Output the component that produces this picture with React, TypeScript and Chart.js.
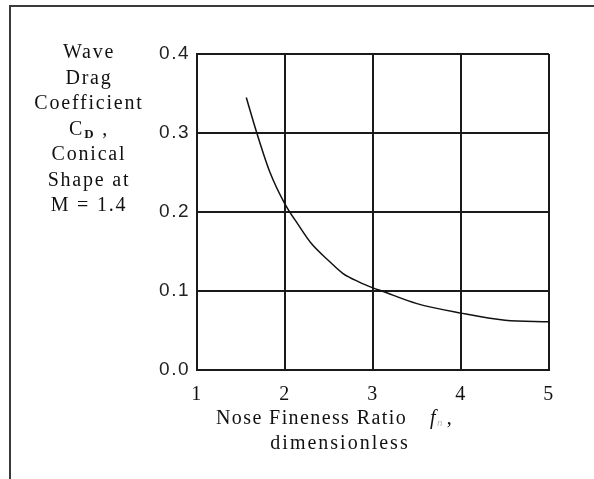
import { useEffect, useRef } from "react";
import { Chart, registerables } from "chart.js";

Chart.register(...registerables);

const finenessRatio = [1.56, 1.68, 1.83, 2.0, 2.15, 2.3, 2.5, 2.66, 2.85, 3.0, 3.1, 3.5, 4.0, 4.5, 5.0];
const waveDragCd = [0.345, 0.3, 0.25, 0.21, 0.184, 0.16, 0.138, 0.122, 0.111, 0.104, 0.1, 0.084, 0.072, 0.063, 0.061];
const xTickValues = [1, 2, 3, 4, 5];
const yTickValues = [0.0, 0.1, 0.2, 0.3, 0.4];
const yTitleLines = ["Wave", "Drag", "Coefficient", "C_D ,", "Conical", "Shape at", "M = 1.4"];
const xTitleLine1 = "Nose Fineness Ratio";
const xTitleSymbol = "f";
const xTitleSub = "n";
const xTitleLine2 = "dimensionless";

const SERIF = "'Liberation Serif', 'DejaVu Serif', serif";
const SANS = "'Liberation Sans', Arial, sans-serif";

const decorPlugin = {
  id: "decor",
  beforeDraw(chart: any) {
    const ctx = chart.ctx;
    ctx.fillStyle = "#ffffff";
    ctx.fillRect(0, 0, chart.width, chart.height);
    (ctx as any).letterSpacing = "1.5px";
  },
  afterDraw(chart: any) {
    const ctx = chart.ctx as CanvasRenderingContext2D;
    ctx.save();
    // outer frame
    ctx.strokeStyle = "#3a3a3a";
    ctx.lineWidth = 2;
    ctx.beginPath();
    ctx.moveTo(10, 479);
    ctx.lineTo(10, 6);
    ctx.lineTo(594, 6);
    ctx.stroke();

    ctx.fillStyle = "#111111";
    (ctx as any).letterSpacing = "1.8px";
    ctx.textBaseline = "alphabetic";
    const cx = 89;
    yTitleLines.forEach((line, i) => {
      const y = 58 + 25.5 * i;
      if (line.startsWith("C_D")) {
        ctx.font = `20px ${SERIF}`;
        const wC = ctx.measureText("C").width;
        ctx.font = `bold 13px ${SERIF}`;
        const wD = ctx.measureText("D").width;
        ctx.font = `20px ${SERIF}`;
        const rest = line.slice(3);
        const wR = ctx.measureText(rest).width;
        let x = cx - (wC + wD + wR) / 2;
        ctx.textAlign = "left";
        ctx.fillText("C", x, y);
        x += wC;
        ctx.font = `bold 13px ${SERIF}`;
        ctx.fillText("D", x, y + 3);
        x += wD;
        ctx.font = `20px ${SERIF}`;
        ctx.fillText(rest, x, y);
      } else {
        ctx.font = `20px ${SERIF}`;
        ctx.textAlign = "center";
        ctx.fillText(line, cx, y);
      }
    });

    // x title
    (ctx as any).letterSpacing = "1.4px";
    ctx.textAlign = "left";
    ctx.font = `20px ${SERIF}`;
    let x = 216;
    const y1 = 424;
    ctx.fillText(xTitleLine1, x, y1);
    x = 430;
    ctx.font = `italic 20px ${SERIF}`;
    ctx.fillText(xTitleSymbol, x, y1);
    x += ctx.measureText(xTitleSymbol).width;
    ctx.fillStyle = "#bbbbbb";
    ctx.font = `italic 11px ${SERIF}`;
    ctx.fillText(xTitleSub, x, y1 + 2);
    x += ctx.measureText(xTitleSub).width + 3;
    ctx.fillStyle = "#111111";
    ctx.font = `20px ${SERIF}`;
    ctx.fillText(",", x, y1);
    (ctx as any).letterSpacing = "2px";
    ctx.textAlign = "center";
    ctx.fillText(xTitleLine2, 340, 449);
    ctx.restore();
  },
};

export default function App() {
  const ref = useRef<HTMLCanvasElement | null>(null);
  useEffect(() => {
    if (!ref.current) return;
    const chart = new Chart(ref.current, {
      type: "line",
      data: {
        datasets: [
          {
            data: finenessRatio.map((v, i) => ({ x: v, y: waveDragCd[i] })),
            borderColor: "#111111",
            borderWidth: 1.5,
            pointRadius: 0,
            fill: false,
            cubicInterpolationMode: "monotone",
          },
        ],
      },
      options: {
        animation: false,
        responsive: false,
        devicePixelRatio: 1,
        layout: { padding: { left: 0, top: 54, right: 45, bottom: 0 } },
        plugins: { legend: { display: false }, tooltip: { enabled: false } },
        scales: {
          x: {
            type: "linear",
            min: 1,
            max: 5,
            afterBuildTicks: (s: any) => {
              s.ticks = xTickValues.map((v) => ({ value: v }));
            },
            afterFit: (s: any) => {
              s.height = 109;
            },
            grid: { color: "#1a1a1a", lineWidth: 2, drawTicks: false },
            border: { display: true, color: "#1a1a1a", width: 2 },
            ticks: {
              color: "#111111",
              font: { family: SERIF, size: 20 },
              padding: 13,
              callback: (v: any) => String(v),
            },
          },
          y: {
            type: "linear",
            min: 0,
            max: 0.4,
            afterBuildTicks: (s: any) => {
              s.ticks = yTickValues.map((v) => ({ value: v }));
            },
            afterFit: (s: any) => {
              s.width = 197;
            },
            grid: { color: "#1a1a1a", lineWidth: 2, drawTicks: false },
            border: { display: true, color: "#1a1a1a", width: 2 },
            ticks: {
              color: "#222222",
              font: { family: SANS, size: 19 },
              padding: 7,
              callback: (v: any) => Number(v).toFixed(1),
            },
          },
        },
      },
      plugins: [decorPlugin],
    } as any);
    return () => chart.destroy();
  }, []);
  return (
    <div style={{ position: "fixed", left: 0, top: 0, width: 594, height: 479, background: "#fff" }}>
      <canvas ref={ref} width={594} height={479} style={{ width: 594, height: 479, display: "block" }} />
    </div>
  );
}
